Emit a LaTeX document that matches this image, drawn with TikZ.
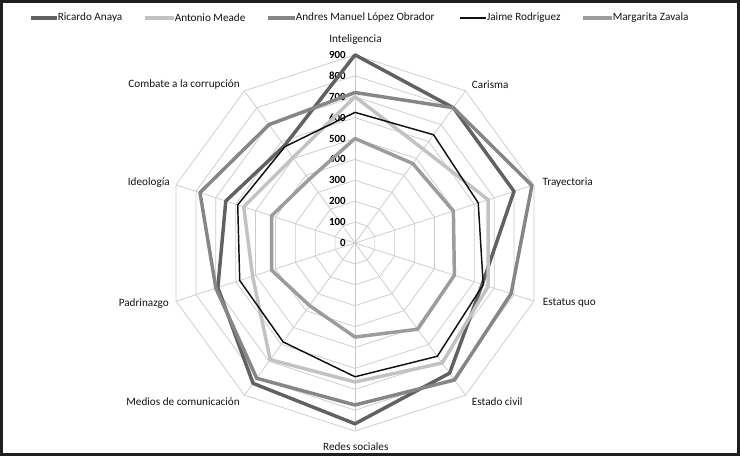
\documentclass[tikz,border=0pt]{standalone}
\usepackage{fontspec}
\setmainfont{Carlito}
\definecolor{anayaC}{HTML}{616161}
\definecolor{meadeC}{HTML}{C2C2C2}
\definecolor{amloC}{HTML}{868686}
\definecolor{jaimeC}{HTML}{111111}
\definecolor{zavalaC}{HTML}{9C9C9C}
\definecolor{gridC}{HTML}{CBCBCB}
\definecolor{textC}{HTML}{141414}
\begin{document}
\begin{tikzpicture}[x=0.75pt,y=-0.75pt,
  gridline/.style={draw=gridC, line width=0.55pt},
  serie/.style={line width=2.6pt, line join=round},
  anayaS/.style={serie, draw=anayaC},
  meadeS/.style={serie, draw=meadeC},
  amloS/.style={serie, draw=amloC},
  jaimeS/.style={line width=1.1pt, line join=round, draw=jaimeC},
  zavalaS/.style={serie, draw=zavalaC},
  lab/.style={font=\fontsize{8.4}{10}\selectfont, text=textC, inner sep=0pt},
  ticklab/.style={font=\fontsize{8.2}{10}\selectfont\bfseries, text=black, inner sep=0pt, anchor=east},
  legtext/.style={font=\fontsize{8.4}{10}\selectfont, text=textC, inner sep=0pt, anchor=west}]
\useasboundingbox (0,0) rectangle (740,456);
\fill[white] (0,0) rectangle (740,456);
\draw[line width=2.1pt, draw=black!88] (1.4,1.4) rectangle (738.6,454.6);

% legend
\foreach \c/\xa/\xb/\name [count=\n] in {anayaC/31/57/Ricardo Anaya, meadeC/145/174/Antonio Meade, amloC/268/295/Andres Manuel López Obrador, jaimeC/460/486/Jaime Rodriguez, zavalaC/583/612/Margarita Zavala} {
  \coordinate (la\n) at (\xa,18);
  \coordinate (lb\n) at (\xb,18);
  \node[legtext] (lt\n) at (\xb+0.5,18) {\name};
}
\foreach \n/\c/\w in {1/anayaC/2.6pt, 2/meadeC/2.6pt, 3/amloC/2.6pt, 4/jaimeC/1.6pt, 5/zavalaC/2.6pt}
  \draw[draw=\c, line width=\w] (la\n) -- (lb\n);

\begin{scope}[shift={(355,243)}]
  % grid
  \foreach \g in {1,...,9} {
    \draw[gridline] (0,{-\g*20.9}) \foreach \k in {1,...,9}{ -- ({\g*20.9*sin(36*\k)},{-\g*20.9*cos(36*\k)}) } -- cycle;
  }
  \foreach \k in {0,...,9}
    \draw[gridline] (0,0) -- ({188.1*sin(36*\k)},{-188.1*cos(36*\k)});
\end{scope}

% tick labels
\foreach \g in {0,...,9}
  \node[ticklab] (tk\g) at (346,{243-\g*20.9}) {\the\numexpr\g*100\relax};

% axis labels
\node[lab, anchor=center] (ax0) at (355.5,40) {Inteligencia};
\node[lab, anchor=west] (ax1) at (471.7,84.3) {Carisma};
\node[lab, anchor=west] (ax2) at (542.3,182.7) {Trayectoria};
\node[lab, anchor=west] (ax3) at (542.7,303.3) {Estatus quo};
\node[lab, anchor=west] (ax4) at (471.7,401.7) {Estado civil};
\node[lab, anchor=center] (ax5) at (355.8,446.7) {Redes sociales};
\node[lab, anchor=east] (ax6) at (240,401.7) {Medios de comunicación};
\node[lab, anchor=east] (ax7) at (169,303.3) {Padrinazgo};
\node[lab, anchor=east] (ax8) at (170,182.7) {Ideología};
\node[lab, anchor=east] (ax9) at (240,84.3) {Combate a la corrupción};

% series
\begin{scope}[shift={(355,243)}]
  \foreach \s/\vals in {A/{900,800,800,640,770,865,830,690,650,575},
                        M/{700,555,670,670,710,665,690,515,560,505},
                        O/{720,800,890,785,810,775,800,700,780,700},
                        J/{625,640,620,645,670,640,585,580,590,570},
                        Z/{500,470,495,500,510,450,370,420,420,375}} {
    \foreach \v [count=\i from 0] in \vals
      \coordinate (\s\i) at ({\v*0.209*sin(36*\i)},{-\v*0.209*cos(36*\i)});
  }
  \draw[anayaS] (A0) \foreach \i in {1,...,9}{ -- (A\i) } -- cycle;
  \draw[meadeS] (M0) \foreach \i in {1,...,9}{ -- (M\i) } -- cycle;
  \draw[amloS] (O0) \foreach \i in {1,...,9}{ -- (O\i) } -- cycle;
  \draw[jaimeS] (J0) \foreach \i in {1,...,9}{ -- (J\i) } -- cycle;
  \draw[zavalaS] (Z0) \foreach \i in {1,...,9}{ -- (Z\i) } -- cycle;
\end{scope}
\end{tikzpicture}
\end{document}
